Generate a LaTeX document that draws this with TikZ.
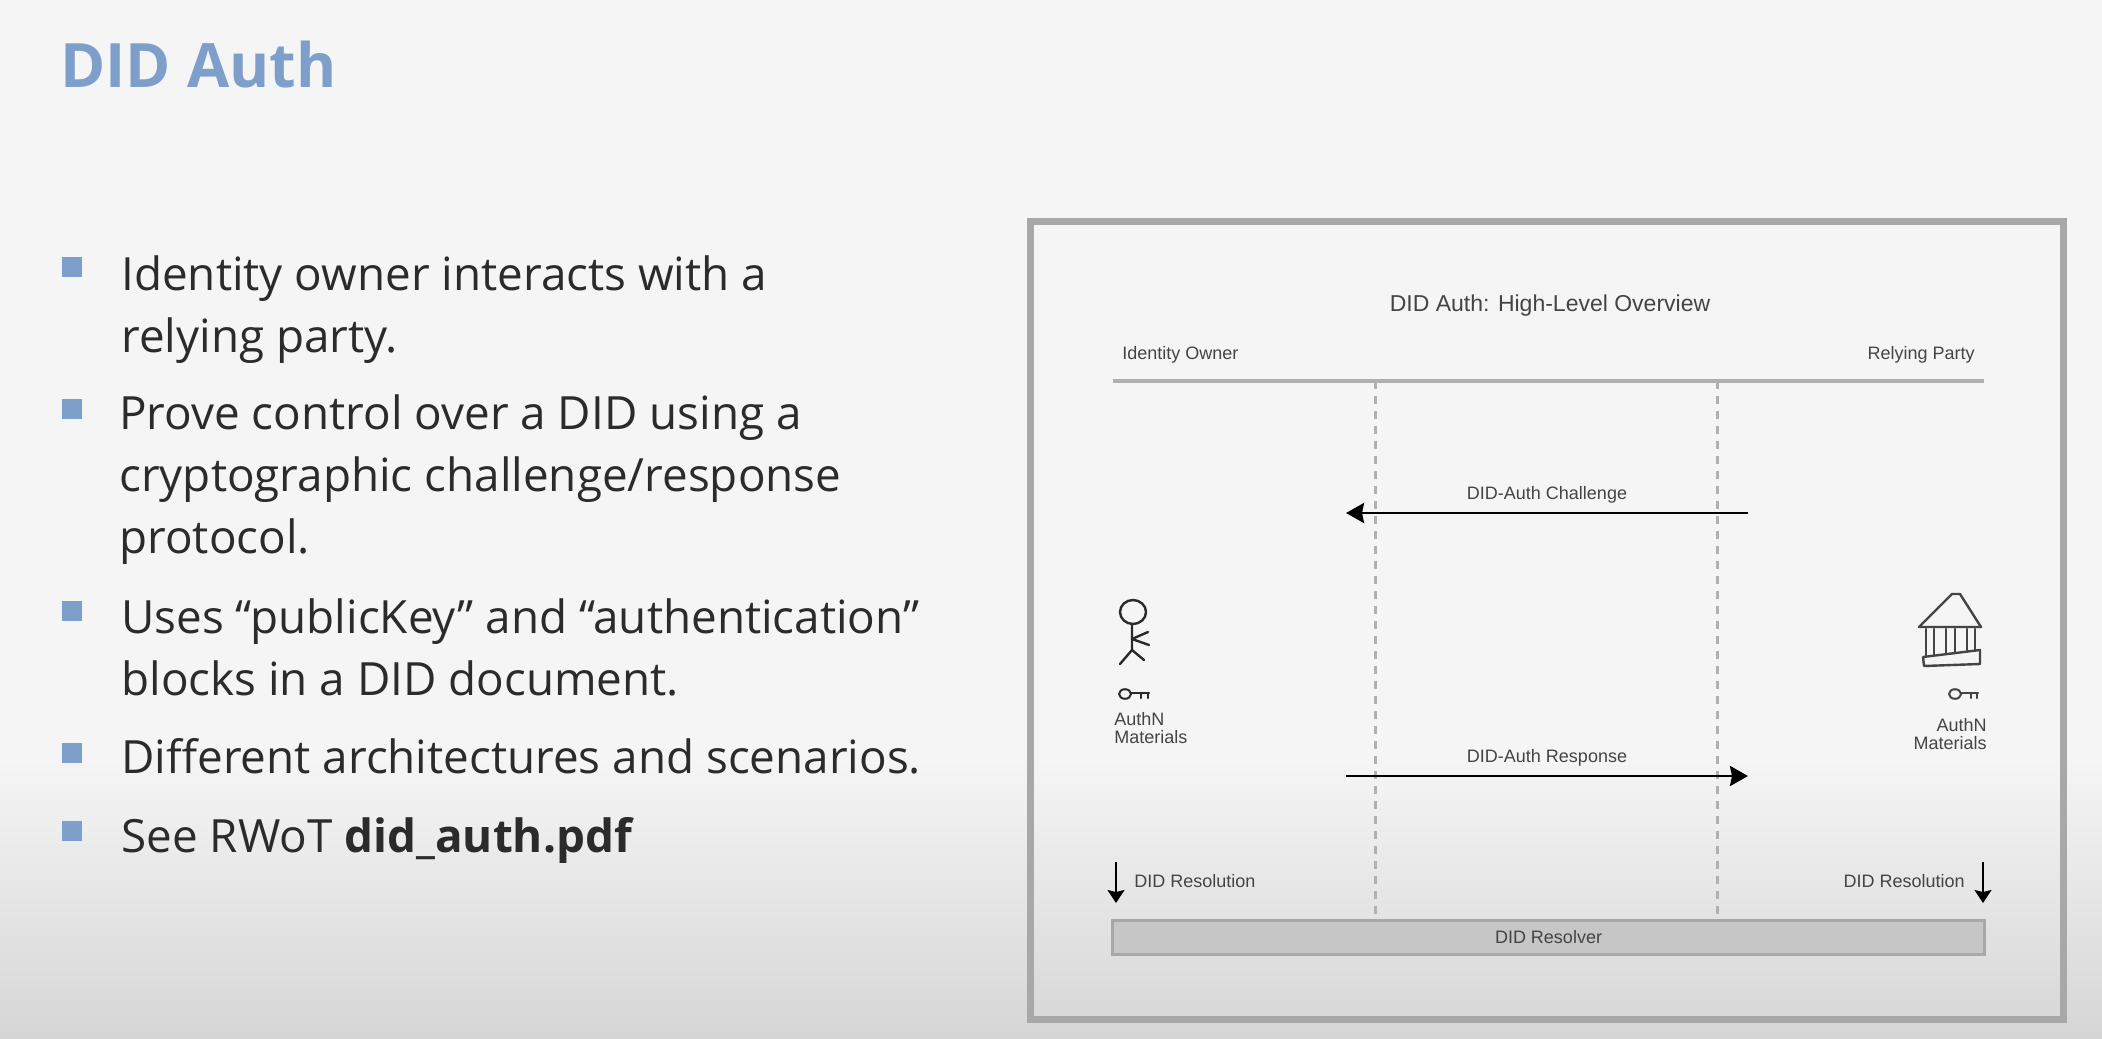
\documentclass[tikz,border=0pt]{standalone}
\usepackage{fontspec}
\setmainfont{Open Sans}
\setsansfont{Liberation Sans}
\usepackage{xcolor}
\usetikzlibrary{arrows.meta, positioning, calc}
\definecolor{slidebg}{HTML}{f5f5f5}
\definecolor{slidebot}{HTML}{d6d6d6}
\definecolor{accent}{HTML}{7f9fcb}
\definecolor{bodyink}{HTML}{2b2b2b}
\definecolor{diagink}{HTML}{444444}
\definecolor{frameline}{HTML}{a8a8a8}
\definecolor{ruleline}{HTML}{b0b0b0}
\definecolor{barfill}{HTML}{c6c6c6}
\definecolor{sketchink}{HTML}{2a2a2a}

\begin{document}
\begin{tikzpicture}[x=0.5pt, y=-0.5pt,
    slidetitle/.style={
        anchor=base west, inner sep=0pt, text=accent,
        font=\bfseries\fontsize{30.6}{38}\selectfont,
    },
    bullet/.style={
        rectangle, fill=accent, minimum size=10pt, inner sep=0pt,
    },
    bodytext/.style={
        anchor=north west, inner sep=0pt, align=left, text=bodyink,
        font=\fontsize{22.9}{31}\selectfont,
    },
    difftext/.style={
        inner sep=0pt, text=diagink, font=\sffamily\fontsize{9}{9}\selectfont,
    },
    message/.style={
        draw=black, line width=1.4pt,
        -{Stealth[length=9pt, width=10pt, inset=1pt]},
    },
    resolve/.style={
        draw=black, line width=0.9pt,
        -{Stealth[length=6.5pt, width=8.5pt, inset=1pt]},
    },
    lifeline/.style={
        draw=ruleline, line width=1.5pt, dash pattern=on 4pt off 3.5pt,
    },
    sketch/.style={
        draw=sketchink, line width=1.2pt, line cap=round, line join=round,
    },
]
\useasboundingbox (0,0) rectangle (2102,1038);

% ── Slide background ───────────────────────────────────────────────────
\fill[slidebg] (0,0) rectangle (2102,760);
\shade[top color=slidebg, bottom color=slidebot] (0,759) rectangle (2102,1038);

% ── Slide text ─────────────────────────────────────────────────────────
\node[slidetitle] (title) at (60,88) {DID Auth};

\node[bullet] (b1) at (72,267) {};
\node[bodytext] (t1) at (121,255) {Identity owner interacts with a\\relying party.};
\node[bullet] (b2) at (72,409) {};
\node[bodytext] (t2) at (119,394) {Prove control over a DID using a\\cryptographic challenge/response\\protocol.};
\node[bullet] (b3) at (72,611) {};
\node[bodytext] (t3) at (121,598) {Uses “publicKey” and “authentication”\\blocks in a DID document.};
\node[bullet] (b4) at (72,753) {};
\node[bodytext] (t4) at (121,738) {Different architectures and scenarios.};
\node[bullet] (b5) at (72,831) {};
\node[bodytext] (t5) at (121,817) {See RWoT \textbf{did\_auth.pdf}};

% ── Figure frame ───────────────────────────────────────────────────────
\node[draw=frameline, line width=3.5pt, minimum width=516.5pt, minimum height=399pt,
      inner sep=0pt] (frame) at (1547,620.5) {};

\node[difftext, font=\sffamily\fontsize{11.5}{11.5}\selectfont] (figtitle) at (1550,306) {DID Auth: High-Level Overview};
\node[difftext, anchor=base west] (owner) at (1122,359) {Identity Owner};
\node[difftext, anchor=base east] (party) at (1975,359) {Relying Party};

\coordinate (ruleL) at (1113,381);
\coordinate (ruleR) at (1984,381);
\draw[draw=ruleline, line width=1.6pt] (ruleL) -- (ruleR);

% ── Resolver bar ───────────────────────────────────────────────────────
\node[rectangle, draw=frameline, fill=barfill, line width=1.4pt, inner sep=0pt,
      minimum width=436pt, minimum height=17pt, text=diagink,
      font=\sffamily\fontsize{9}{9}\selectfont] (resolver) at (1548.5,937.5) {DID Resolver};

% ── Lifelines ──────────────────────────────────────────────────────────
\coordinate (lifeL) at (1375,381);
\coordinate (lifeR) at (1717,381);
\draw[lifeline] (lifeL) -- ($(lifeL |- resolver.north)+(0,-3)$);
\draw[lifeline] (lifeR) -- ($(lifeR |- resolver.north)+(0,-3)$);

% ── Messages ───────────────────────────────────────────────────────────
\coordinate (chalR) at (1748,513);
\coordinate (chalL) at (1346,513);
\draw[message] (chalR) -- (chalL)
    node[midway, above=4pt, difftext, font=\sffamily\fontsize{9}{9}\selectfont] (chal) {DID-Auth Challenge};
\coordinate (respL) at (1346,776);
\coordinate (respR) at (1748,776);
\draw[message] (respL) -- (respR)
    node[midway, above=4pt, difftext, font=\sffamily\fontsize{9}{9}\selectfont] (resp) {DID-Auth Response};

% ── Resolution arrows ──────────────────────────────────────────────────
\coordinate (downL) at (1116,862);
\coordinate (downR) at (1983,862);
\draw[resolve] (downL) -- (downL |- 0,903);
\draw[resolve] (downR) -- (downR |- 0,903);
\node[difftext, anchor=west] (resL) at (1134,881) {DID Resolution};
\node[difftext, anchor=east] (resR) at (1965,881) {DID Resolution};

% ── Stick figure ───────────────────────────────────────────────────────
\draw[sketch] (1133,612) ellipse [x radius=6.5pt, y radius=6pt];
\draw[sketch] (1132,624) -- (1132,650) -- (1120,664);
\draw[sketch] (1132,650) -- (1144,660);
\draw[sketch] (1148,632) -- (1132,639) -- (1149,645);

% ── Bank building ──────────────────────────────────────────────────────
\draw[sketch, draw=diagink] (1919,627) -- (1952,594) -- (1960,594) -- (1981,627) -- cycle;
\draw[sketch, draw=diagink] (1923,657) -- (1980,650) -- (1980,664) -- (1924,666) -- cycle;
\draw[sketch, draw=diagink] (1926,629) -- (1926,656) (1934,629) -- (1934,655)
    (1946,629) -- (1946,654) (1955,629) -- (1955,653)
    (1967,629) -- (1967,651) (1975,629) -- (1975,651);

% ── Keys ───────────────────────────────────────────────────────────────
\draw[sketch, line width=1pt] (1125,694) ellipse [x radius=3pt, y radius=2.4pt];
\draw[sketch, line width=1pt] (1131,693) -- (1149,693) (1141,693) -- (1141,698) (1148,693) -- (1148,698);
\draw[sketch, line width=1pt, draw=diagink] (1955,694) ellipse [x radius=3pt, y radius=2.4pt];
\draw[sketch, line width=1pt, draw=diagink] (1961,693) -- (1978,693) (1971,693) -- (1971,698) (1977,693) -- (1977,698);

% ── Materials labels ───────────────────────────────────────────────────
\node[difftext, anchor=north west, align=left, font=\sffamily\fontsize{9}{9}\selectfont] (authL) at (1114,712) {AuthN\\Materials};
\node[difftext, anchor=north east, align=right, font=\sffamily\fontsize{9}{9}\selectfont] (authR) at (1987,718) {AuthN\\Materials};

\end{tikzpicture}
\end{document}
